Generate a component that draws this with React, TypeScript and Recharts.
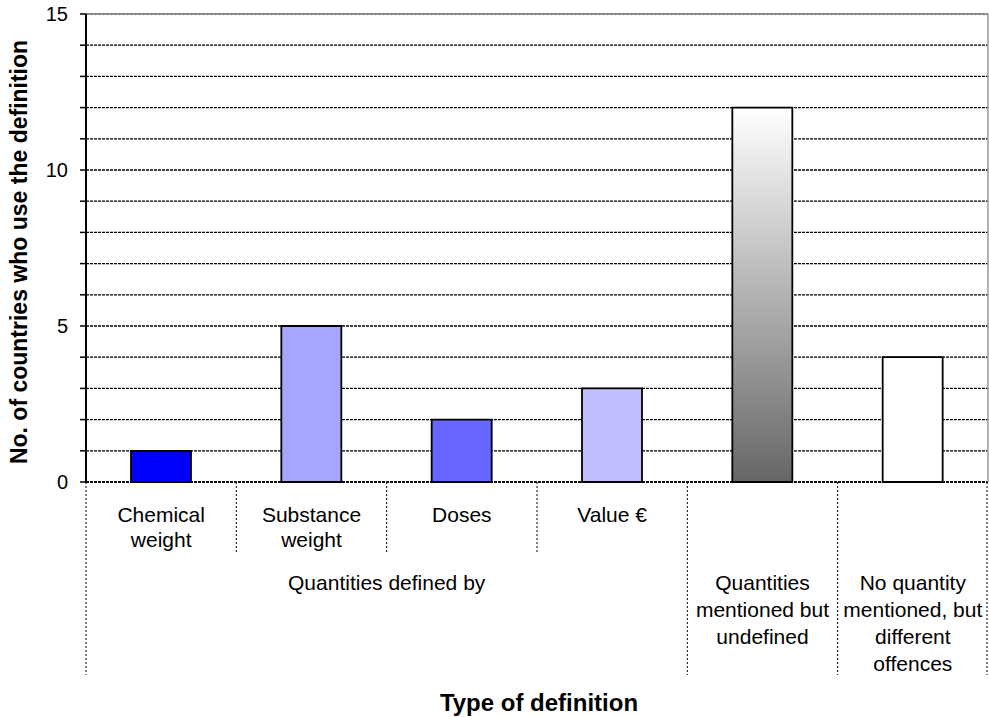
import React from 'react';
import { BarChart, Bar, XAxis, YAxis, CartesianGrid, Cell, ReferenceLine } from 'recharts';

// categories shown on the x axis (first row of labels)
const CATEGORIES = [
  'Chemical weight',
  'Substance weight',
  'Doses',
  'Value €',
  'Quantities mentioned but undefined',
  'No quantity mentioned, but different offences',
];
const COUNTS = [1, 5, 2, 3, 12, 4];

// first-row label lines (empty where the category is only labelled by its group)
const ROW1_LINES = [['Chemical', 'weight'], ['Substance', 'weight'], ['Doses'], ['Value €'], [], []];

// second-row groups
const GROUP_OF = [0, 0, 0, 0, 1, 2];
const GROUP_LINES = [
  ['Quantities defined by'],
  ['Quantities', 'mentioned but', 'undefined'],
  ['No quantity', 'mentioned, but', 'different', 'offences'],
];

const Y_TICKS = [0, 1, 2, 3, 4, 5, 6, 7, 8, 9, 10, 11, 12, 13, 14, 15];

const BAR_FILLS = ['#0000FF', '#A6A6FF', '#6666FF', '#C0C0FF', 'url(#greyFade)', '#FFFFFF'];

const FONT = '"Liberation Sans", Arial, sans-serif';

const chartData = CATEGORIES.map((name, i) => ({ name, count: COUNTS[i] }));

const CategoryTick = (props: any) => {
  const { x, y, payload, index } = props;
  const half = payload?.offset ?? props.width / CATEGORIES.length / 2;
  const left = x - half;
  const right = x + half;
  const g = GROUP_OF[index];
  const firstOfGroup = index === 0 || GROUP_OF[index - 1] !== g;
  const span = GROUP_OF.filter((v) => v === g).length;
  const isLast = index === CATEGORIES.length - 1;
  const dash = { stroke: '#000', strokeWidth: 1, strokeDasharray: '2 2' };
  return (
    <g>
      <line x1={left} x2={left} y1={y} y2={firstOfGroup ? y + 193 : y + 70} {...dash} />
      {isLast && <line x1={right - 1} x2={right - 1} y1={y} y2={y + 193} {...dash} />}
      {ROW1_LINES[index].map((t, k) => (
        <text key={k} x={x} y={y + 40 + k * 25} textAnchor="middle" fontSize={21} fill="#000">
          {t}
        </text>
      ))}
      {firstOfGroup &&
        GROUP_LINES[g].map((t, k) => (
          <text key={'g' + k} x={left + span * half} y={y + 108 + k * 27} textAnchor="middle" fontSize={21} fill="#000">
            {t}
          </text>
        ))}
    </g>
  );
};

const YTitle = (props: any) => {
  const vb = props.viewBox || {};
  const cy = vb.y + vb.height / 2 + 4;
  return (
    <text
      x={19}
      y={cy}
      transform={`rotate(-90 19 ${cy})`}
      textAnchor="middle"
      dominantBaseline="central"
      fontSize={23}
      fontWeight="bold"
      fill="#000"
    >
      No. of countries who use the definition
    </text>
  );
};

const XTitle = (props: any) => {
  const vb = props.viewBox || {};
  return (
    <text x={vb.x + vb.width / 2 + 2} y={711} textAnchor="middle" fontSize={24} fontWeight="bold" fill="#000">
      Type of definition
    </text>
  );
};

const App: React.FC = () => {
  return (
    <div style={{ position: 'absolute', left: 0, top: 0, width: 989, height: 717, background: '#fff', fontFamily: FONT }}>
      <BarChart width={989} height={717} data={chartData} margin={{ top: 14, right: 0, bottom: 0, left: 0 }}>
        <defs>
          <linearGradient id="greyFade" x1="0" y1="0" x2="0" y2="1">
            <stop offset="0%" stopColor="#FFFFFF" />
            <stop offset="100%" stopColor="#666666" />
          </linearGradient>
        </defs>
        <CartesianGrid vertical={false} stroke="#000" strokeWidth={1.3} strokeDasharray="3 1" />
        <ReferenceLine y={15} stroke="#999" strokeWidth={1.5} />
        <XAxis
          dataKey="name"
          interval={0}
          height={235}
          tickSize={0}
          tickMargin={0}
          tickLine={false}
          axisLine={{ stroke: '#000', strokeWidth: 1.5, strokeDasharray: '3 1' }}
          tick={<CategoryTick />}
          label={{ content: <XTitle /> }}
        />
        <YAxis
          width={86}
          domain={[0, 15]}
          ticks={Y_TICKS}
          interval={0}
          tickSize={6}
          tickMargin={12}
          tickFormatter={(v: number) => (v % 5 === 0 ? String(v) : '')}
          tick={{ fontSize: 20, fill: '#000' }}
          tickLine={{ stroke: '#000', strokeWidth: 1.5 }}
          axisLine={{ stroke: '#000', strokeWidth: 2 }}
          label={{ content: <YTitle /> }}
        />
        <YAxis
          yAxisId="right"
          orientation="right"
          width={1}
          domain={[0, 15]}
          tick={false}
          tickLine={false}
          axisLine={{ stroke: '#999', strokeWidth: 1.5 }}
        />
        <Bar dataKey="count" barSize={60} stroke="#000" strokeWidth={1.8} isAnimationActive={false}>
          {chartData.map((d, i) => (
            <Cell key={d.name} fill={BAR_FILLS[i]} />
          ))}
        </Bar>
      </BarChart>
    </div>
  );
};

export default App;
